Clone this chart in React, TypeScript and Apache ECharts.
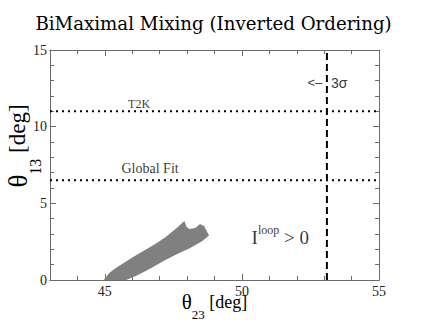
import React, { useEffect, useRef } from "react";
import * as echarts from "echarts";

// Allowed region (I^loop > 0), boundary traced clockwise
const regionTheta23 = [44.96, 45.16, 45.4, 45.66, 46.03, 46.39, 46.87, 47.23, 47.6, 47.9, 47.98, 48.08, 48.3, 48.47, 48.62, 48.8, 48.56, 48.08, 47.6, 47.11, 46.63, 46.15, 45.78];
const regionTheta13 = [0, 0.45, 0.78, 1.08, 1.5, 1.88, 2.38, 2.82, 3.36, 3.84, 3.48, 3.33, 3.39, 3.66, 3.52, 2.9, 2.55, 2.06, 1.66, 1.2, 0.72, 0.28, 0];

const t2kTheta13 = 11;
const globalFitTheta13 = 6.5;
const sigma3Theta23 = 53.1;

const xRange = [43, 55];
const yRange = [0, 15];
const xMajorTicks = [45, 50, 55];
const xMinorTicks = [44, 46, 47, 48, 49, 51, 52, 53, 54];

// annotation texts and their anchor points in data coordinates
const annotationKeys = ["t2k", "global", "iloop", "arrow", "sigma"];
const annotationTheta23 = [46.25, 46.65, 51.4, 52.66, 53.55];
const annotationTheta13 = [11.5, 7.3, 2.74, 12.85, 12.85];

const SERIF = "'Liberation Serif', 'Times New Roman', serif";
const SANS = "'Liberation Sans', Arial, sans-serif";
const AXIS_COLOR = "#6b6b6b";

export default function App() {
  const ref = useRef<HTMLDivElement>(null);
  useEffect(() => {
    document.body.style.margin = "0";
    if (!ref.current) return;
    const chart = echarts.init(ref.current, undefined, { renderer: "svg" });

    const polygonPoints = regionTheta23.map((x, i) => [x, regionTheta13[i]]);

    const baseAxis = {
      type: "value" as const,
      min: xRange[0],
      max: xRange[1],
      gridIndex: 0,
      splitLine: { show: false },
      axisLine: { show: true, lineStyle: { color: AXIS_COLOR, width: 1 } },
    };

    const xNameRich = {
      t: { fontFamily: SERIF, fontSize: 21, color: "#000", verticalAlign: "middle", lineHeight: 22 },
      s: { fontFamily: SERIF, fontSize: 13, color: "#000", verticalAlign: "middle", lineHeight: 13, padding: [25, 0, 0, 0] },
      u: { fontFamily: SERIF, fontSize: 18, color: "#000", verticalAlign: "middle", lineHeight: 22 },
    };
    const yNameRich = {
      t: { fontFamily: SERIF, fontSize: 27, color: "#000", verticalAlign: "middle", lineHeight: 28 },
      s: { fontFamily: SERIF, fontSize: 16, color: "#000", verticalAlign: "middle", lineHeight: 16, padding: [35, 0, 0, 0] },
      u: { fontFamily: SERIF, fontSize: 23, color: "#000", verticalAlign: "middle", lineHeight: 28 },
    };

    const xAxis = [
      {
        ...baseAxis,
        position: "bottom",
        axisTick: { show: true, inside: true, length: 6, customValues: xMajorTicks, lineStyle: { color: AXIS_COLOR } },
        axisLabel: {
          show: true,
          customValues: xMajorTicks,
          fontFamily: SERIF,
          fontSize: 14,
          color: "#222",
          margin: 4,
        },
        name: "{t|θ}{s|23}{u| [deg]}",
        nameLocation: "middle",
        nameGap: 10.5,
        nameMoveOverlap: false,
        nameTextStyle: { rich: xNameRich },
      },
      {
        ...baseAxis,
        position: "bottom",
        axisTick: { show: true, inside: true, length: 4, customValues: xMinorTicks, lineStyle: { color: AXIS_COLOR } },
        axisLabel: { show: false },
      },
      {
        ...baseAxis,
        position: "top",
        axisTick: { show: true, inside: true, length: 6, customValues: xMajorTicks, lineStyle: { color: AXIS_COLOR } },
        axisLabel: { show: false },
      },
      {
        ...baseAxis,
        position: "top",
        axisTick: { show: true, inside: true, length: 4, customValues: xMinorTicks, lineStyle: { color: AXIS_COLOR } },
        axisLabel: { show: false },
      },
    ];

    const yBase = {
      type: "value" as const,
      min: yRange[0],
      max: yRange[1],
      interval: 5,
      gridIndex: 0,
      splitLine: { show: false },
      axisLine: { show: true, lineStyle: { color: AXIS_COLOR, width: 1 } },
      axisTick: { show: true, inside: true, length: 6, lineStyle: { color: AXIS_COLOR } },
      minorTick: { show: true, splitNumber: 5, length: 4, lineStyle: { color: AXIS_COLOR } },
    };

    const yAxis = [
      {
        ...yBase,
        position: "left",
        axisLabel: { show: true, fontFamily: SERIF, fontSize: 14, color: "#222", margin: 3 },
        name: "{t|θ}{s|13}{u| [deg]}",
        nameLocation: "middle",
        nameGap: 18.5,
        nameMoveOverlap: false,
        nameTextStyle: {
          padding: [0, 0, 0, 38],
          rich: yNameRich,
        },
      },
      {
        ...yBase,
        position: "right",
        axisLabel: { show: false },
      },
    ];

    const labelFor = (key: string) => {
      switch (key) {
        case "t2k":
          return { formatter: "T2K", fontFamily: SERIF, fontSize: 12, color: "#000" };
        case "global":
          return { formatter: "Global Fit", fontFamily: SERIF, fontSize: 14, color: "#000" };
        case "iloop":
          return {
            formatter: "{i|I}{s|loop}{m| > 0}",
            color: "#000",
            rich: {
              i: { fontFamily: SERIF, fontSize: 19, color: "#000", verticalAlign: "middle", lineHeight: 20 },
              s: { fontFamily: SERIF, fontSize: 12, color: "#000", verticalAlign: "middle", lineHeight: 12, padding: [0, 0, 15, 0] },
              m: { fontFamily: SERIF, fontSize: 19, color: "#000", verticalAlign: "middle", lineHeight: 20 },
            },
          };
        case "arrow":
          return { formatter: "<–", fontFamily: SANS, fontSize: 13, color: "#000" };
        default:
          return { formatter: "3σ", fontFamily: SANS, fontSize: 14, color: "#000" };
      }
    };

    const annotationData = annotationKeys.map((key, i) => ({
      value: [annotationTheta23[i], annotationTheta13[i]],
      label: { show: true, position: "inside", ...labelFor(key) },
    }));

    const option = {
      animation: false,
      title: {
        text: "BiMaximal Mixing (Inverted Ordering)",
        left: "center",
        top: 9,
        textStyle: { fontFamily: "'DejaVu Serif', serif", fontSize: 18.2, fontWeight: "normal", color: "#000" },
      },
      grid: { left: 50, right: 48, top: 50, bottom: 50, containLabel: false, outerBoundsMode: "none" },
      xAxis,
      yAxis,
      series: [
        {
          type: "custom",
          xAxisIndex: 0,
          yAxisIndex: 0,
          silent: true,
          data: [polygonPoints[0]],
          renderItem: (_params: any, api: any) => ({
            type: "polygon",
            shape: { points: polygonPoints.map((p) => api.coord(p)) },
            style: { fill: "#808080", stroke: "none" },
          }),
        },
        {
          type: "line",
          xAxisIndex: 0,
          yAxisIndex: 0,
          silent: true,
          symbol: "none",
          data: [
            [xRange[0], t2kTheta13],
            [xRange[1], t2kTheta13],
          ],
          lineStyle: { color: "#000", width: 2, type: [2, 4] },
        },
        {
          type: "line",
          xAxisIndex: 0,
          yAxisIndex: 0,
          silent: true,
          symbol: "none",
          data: [
            [xRange[0], globalFitTheta13],
            [xRange[1], globalFitTheta13],
          ],
          lineStyle: { color: "#000", width: 2, type: [2, 4] },
        },
        {
          type: "line",
          xAxisIndex: 0,
          yAxisIndex: 0,
          silent: true,
          symbol: "none",
          data: [
            [sigma3Theta23, yRange[0]],
            [sigma3Theta23, yRange[1]],
          ],
          lineStyle: { color: "#000", width: 2, type: [7, 4] },
        },
        {
          type: "scatter",
          xAxisIndex: 0,
          yAxisIndex: 0,
          silent: true,
          symbolSize: 1,
          itemStyle: { color: "transparent" },
          data: annotationData,
        },
      ],
    };

    chart.setOption(option as any);
    return () => chart.dispose();
  }, []);

  return <div ref={ref} style={{ width: 427, height: 330 }} />;
}
